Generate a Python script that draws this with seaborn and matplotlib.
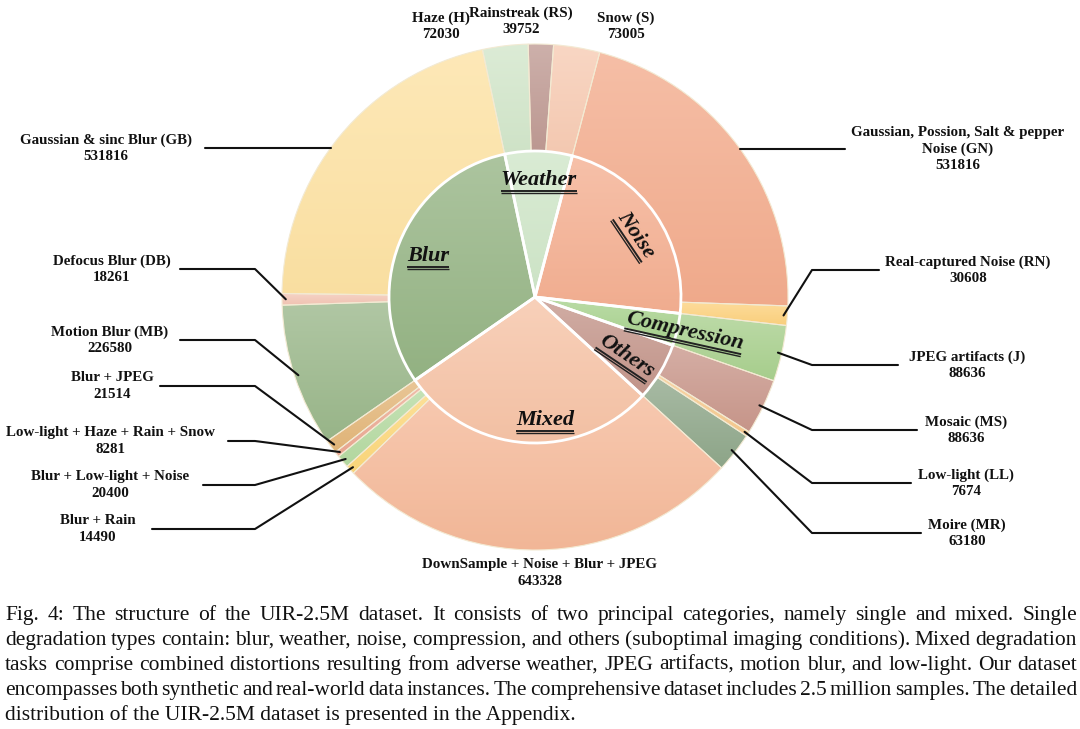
import numpy as np
import matplotlib
matplotlib.use("Agg")
import matplotlib.pyplot as plt
import matplotlib.colors as mcolors
from matplotlib.font_manager import FontProperties
import seaborn as sns

sns.set_theme(style="white")
plt.rcParams['font.family'] = ['Liberation Serif', 'DejaVu Serif']

# ---------------------------
# Data (clockwise from the top)
# ---------------------------
categories = ["Weather", "Noise", "Compression", "Others", "Mixed", "Blur"]
cat_colors = ["#CFE6C8", "#F4AF91", "#A8D28E", "#C4968B", "#F6C3A6", "#95B484"]

sub_labels = [
    "Haze (H)", "Rainstreak (RS)", "Snow (S)",
    "Gaussian, Possion, Salt & pepper\nNoise (GN)", "Real-captured Noise (RN)",
    "JPEG artifacts (J)",
    "Mosaic (MS)", "Low-light (LL)", "Moire (MR)",
    "DownSample + Noise + Blur + JPEG", "Blur + Rain", "Blur + Low-light + Noise",
    "Low-light + Haze + Rain + Snow", "Blur + JPEG",
    "Motion Blur (MB)", "Defocus Blur (DB)", "Gaussian & sinc Blur (GB)",
]
sub_values = [72030, 39752, 73005,
              531816, 30608,
              88636,
              88636, 7674, 63180,
              643328, 14490, 20400, 8281, 21514,
              226580, 18261, 531816]
sub_group = [0, 0, 0, 1, 1, 2, 3, 3, 3, 4, 4, 4, 4, 4, 5, 5, 5]
sub_colors = ["#D2E6CA", "#BF9A93", "#F7CBB3",
              "#F3AC8D", "#FDD27F",
              "#A9D08E",
              "#C9978B", "#F6C98E", "#8FA78A",
              "#F5B999", "#FCD77A", "#B5DAA1", "#EBA892", "#E3B679",
              "#9AB78A", "#F3C6B5", "#FDE2A3"]

cat_values = [sum(v for v, g in zip(sub_values, sub_group) if g == i)
              for i in range(len(categories))]

caption_lines = [
    "Fig. 4: The structure of the UIR-2.5M dataset. It consists of two principal categories, namely single and mixed. Single",
    "degradation types contain: blur, weather, noise, compression, and others (suboptimal imaging conditions). Mixed degradation",
    "tasks comprise combined distortions resulting from adverse weather, JPEG artifacts, motion blur, and low-light. Our dataset",
    "encompasses both synthetic and real-world data instances. The comprehensive dataset includes 2.5 million samples. The detailed",
    "distribution of the UIR-2.5M dataset is presented in the Appendix.",
]

# ---------------------------
# Layout (pixel positions, y measured from the top)
# ---------------------------
W, H = 1080, 729
cx, cy = 535, H - 297
R_out, R_in = 253, 146

# text x, text y, line start x, elbow x (None -> straight horizontal to ring)
label_pos = [
    (441, 26, None, None), (521, 21, None, None), (626, 26, None, None),
    (958, 149, 845, None), (968, 270, 879, 812),
    (967, 365, 898, 812),
    (966, 430, 917, 812), (966, 483, 911, 812), (967, 533, 921, 812),
    (540, 573, None, None), (98, 529, 152, 255), (110, 485, 203, 255),
    (110, 441, 228, 255), (112, 386, 160, 255),
    (110, 340, 180, 255), (112, 269, 180, 255), (106, 148, 205, None),
]
cat_pos = [(539, 180, 0), (636, 235, -56), (685, 331, -12.5),
           (627, 356, -34), (545, 420, 0), (428, 256, 0)]

fig = plt.figure(figsize=(10.8, 7.29), dpi=100)
ax = fig.add_axes([0, 0, 1, 1])

outer, _ = ax.pie(sub_values, colors=sub_colors, radius=R_out, center=(cx, cy),
                  startangle=102, counterclock=False,
                  wedgeprops=dict(width=R_out - R_in, edgecolor="#F3EAD3", linewidth=0.8))
inner, _ = ax.pie(cat_values, colors=cat_colors, radius=R_in, center=(cx, cy),
                  startangle=102, counterclock=False,
                  wedgeprops=dict(edgecolor="white", linewidth=2))


# soft vertical gradient inside every wedge (lighter at the top)
def shade(wedge, color, z):
    base = np.array(mcolors.to_rgb(color))
    top = base + (1 - base) * 0.22
    bot = base * 0.985
    t = np.linspace(0, 1, 64)[:, None]
    img = (top * (1 - t) + bot * t)[:, None, :]
    bb = wedge.get_path().get_extents(wedge.get_patch_transform())
    im = ax.imshow(img, extent=(bb.x0, bb.x1, bb.y0, bb.y1),
                   origin="upper", aspect="auto", zorder=z, interpolation="bilinear")
    im.set_clip_path(wedge)
    wedge.set_facecolor("none")
    wedge.set_zorder(z + 0.5)


for wdg, col in zip(outer, sub_colors):
    shade(wdg, col, 1)
for wdg, col in zip(inner, cat_colors):
    shade(wdg, col, 2)
ax.set_xlim(0, W)
ax.set_ylim(0, H)
ax.set_aspect("equal")
ax.axis("off")

# outer labels with leader lines
for wedge, lab, val, (tx, ty, x0, xe) in zip(outer, sub_labels, sub_values, label_pos):
    ax.text(tx, H - ty, f"{lab}\n{val}", ha="center", va="center", fontsize=10.8,
            fontweight="bold", color="#111111", linespacing=1.33,
            multialignment="center", zorder=5)
    if x0 is None:
        continue
    ly = H - ty
    if xe is None:
        dx = np.sqrt(R_out ** 2 - (ly - cy) ** 2)
        xend = cx + dx if x0 > cx else cx - dx
        ax.plot([x0, xend], [ly, ly], color="#111111", lw=1.5, zorder=5)
    else:
        mid = np.deg2rad((wedge.theta1 + wedge.theta2) / 2)
        px = cx + 0.985 * R_out * np.cos(mid)
        py = cy + 0.985 * R_out * np.sin(mid)
        ax.plot([x0, xe, px], [ly, ly, py], color="#111111", lw=1.5, zorder=5)

# inner category labels, bold italic with double underline
rend = fig.canvas.get_renderer()
for name, (tx, ty, rot) in zip(categories, cat_pos):
    kw = dict(fontsize=16, fontweight="bold", fontstyle="italic")
    ax.text(tx, H - ty, name, rotation=rot, rotation_mode="anchor",
            ha="center", va="center", color="#111111", zorder=6, **kw)
    tmp = ax.text(0, 0, name, **kw)
    bb = tmp.get_window_extent(rend)
    tmp.remove()
    w, h = bb.width, bb.height
    th = np.deg2rad(rot)
    ux, uy = np.cos(th), np.sin(th)
    nx, ny = -np.sin(th), np.cos(th)
    for off, lw in ((h * 0.5 + 0.5, 1.4), (h * 0.5 + 3.0, 1.0)):
        mx, my = tx - nx * off, (H - ty) - ny * off
        ax.plot([mx - ux * w / 2, mx + ux * w / 2], [my - uy * w / 2, my + uy * w / 2],
                color="#222222", lw=lw, solid_capstyle="butt", zorder=6)

# ---------------------------
# Caption (justified)
# ---------------------------
def ink_w(s, size):
    prop = FontProperties(family="Liberation Serif", size=size)
    wd, _, _ = rend.get_text_width_height_descent(s, prop, ismath=False)
    return wd

def text_w(s, size):
    # advance width: pad with x on both sides so glyph bearings cancel out
    return ink_w("x" + s + "x", size) - ink_w("xx", size)

cap_size = 10 * 572 / text_w(caption_lines[-1], 10)
left, right = 5, 1077
baselines = [620, 645, 670, 695, 720]
for i, (line, by) in enumerate(zip(caption_lines, baselines)):
    if i == len(caption_lines) - 1:
        ax.text(left, H - by, line, fontsize=cap_size, va="baseline", ha="left", color="#111111")
        continue
    words = line.split(" ")
    widths = [text_w(wd, cap_size) for wd in words]
    gap = (right - left - sum(widths)) / (len(words) - 1)
    x = left
    for wd, ww in zip(words, widths):
        ax.text(x, H - by, wd, fontsize=cap_size, va="baseline", ha="left", color="#111111")
        x += ww + gap

fig.savefig("out.png", dpi=100)
